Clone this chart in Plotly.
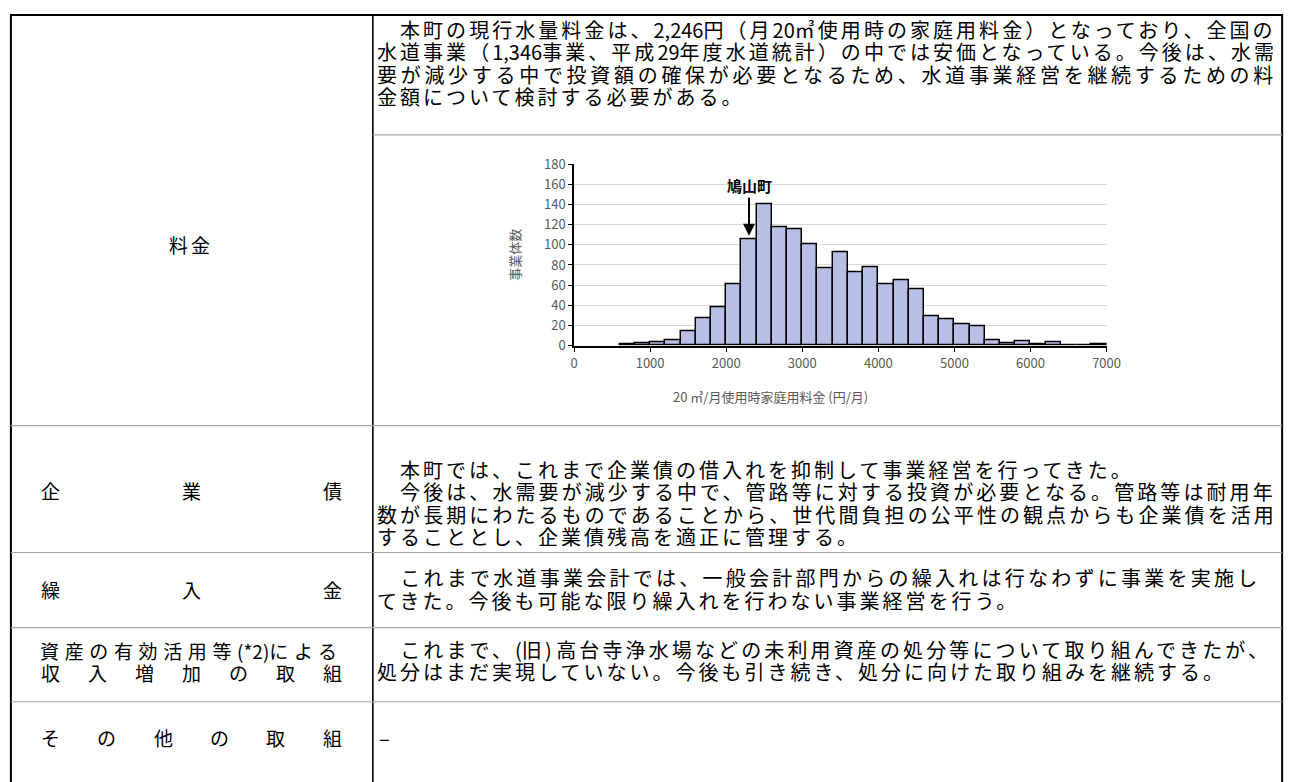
import plotly.graph_objects as go

W, H = 1305, 782

# ---------------- data ----------------
bin_start = [600, 800, 1000, 1200, 1400, 1600, 1800, 2000, 2200, 2400, 2600, 2800,
             3000, 3200, 3400, 3600, 3800, 4000, 4200, 4400, 4600, 4800, 5000, 5200,
             5400, 5600, 5800, 6000, 6200, 6400, 6600, 6800]
counts = [1, 2, 3, 5, 14, 27, 38, 61, 106, 140, 118, 116,
          101, 77, 93, 73, 78, 61, 65, 56, 29, 26, 21, 19,
          5, 2, 4, 1, 3, 0, 0, 1]
bin_width = 200
y_ticks = [0, 20, 40, 60, 80, 100, 120, 140, 160, 180]
x_ticks = [0, 1000, 2000, 3000, 4000, 5000, 6000, 7000]
town_fee = 2300      # bin containing 鳩山町 (2,246円)
town_label = "鳩山町"
x_title = "20 ㎥/月使用時家庭用料金 (円/月)"
y_title = "事業体数"

row1_text = [
    "　本町の現行水量料金は、2,246円（月20㎥使用時の家庭用料金）となっており、全国の",
    "水道事業（1,346事業、平成29年度水道統計）の中では安価となっている。今後は、水需",
    "要が減少する中で投資額の確保が必要となるため、水道事業経営を継続するための料",
    "金額について検討する必要がある。",
]
row2_text = [
    "　本町では、これまで企業債の借入れを抑制して事業経営を行ってきた。",
    "　今後は、水需要が減少する中で、管路等に対する投資が必要となる。管路等は耐用年",
    "数が長期にわたるものであることから、世代間負担の公平性の観点からも企業債を活用",
    "することとし、企業債残高を適正に管理する。",
]
row3_text = [
    "　これまで水道事業会計では、一般会計部門からの繰入れは行なわずに事業を実施し",
    "てきた。今後も可能な限り繰入れを行わない事業経営を行う。",
]
row4_text = [
    "　これまで、(旧) 高台寺浄水場などの未利用資産の処分等について取り組んできたが、",
    "処分はまだ実現していない。今後も引き続き、処分に向けた取り組みを継続する。",
]
row5_text = ["–"]

label1 = "料金"
label2 = "企業債"
label3 = "繰入金"
label4a = "資産の有効活用等(*2)による"
label4b = "収入増加の取組"
label5 = "その他の取組"

# ---------------- helpers ----------------
def px(x):
    return x / W

def py(y):
    return 1 - y / H

FONT = "Noto Sans CJK JP"
TS = 20
BASE_SP = 3.0
LINE_H = 23

ASCII_W = {",": 0.26, "(": 0.33, ")": 0.33, "*": 0.46, " ": 0.22, "–": 0.5}

def est_ascii(s, size):
    return sum(ASCII_W.get(c, 0.555) for c in s) * size

def runs(s):
    out, cur, cur_a = [], "", None
    for c in s:
        a = ord(c) < 0x2100
        if cur and a != cur_a:
            out.append((cur, cur_a))
            cur = ""
        cur += c
        cur_a = a
    if cur:
        out.append((cur, cur_a))
    return out

def markup(s, sp):
    parts = []
    for r, a in runs(s):
        spc = 0 if a else sp
        parts.append(f'<span style="letter-spacing:{spc:.2f}px">{r}</span>')
    return "".join(parts)

def fit_spacing(s, width, size):
    rs = runs(s)
    n_cjk = sum(len(r) for r, a in rs if not a)
    aw = sum(est_ascii(r, size) for r, a in rs if a)
    return (width - aw) / n_cjk - size - 0.3

annotations = []
shapes = []

def txt(s, x, y, anchor="left", size=TS, sp=BASE_SP):
    annotations.append(dict(
        text=markup(s, sp), x=px(x), y=py(y), borderpad=0,
        xref="paper", yref="paper", xanchor=anchor, yanchor="middle",
        showarrow=False, font=dict(family=FONT, size=size, color="black")))

def spread(s, x0, x1, y, size=19):
    n = len(s)
    for i, ch in enumerate(s):
        cx = x0 + (x1 - x0) * i / (n - 1)
        annotations.append(dict(
            text=ch, x=px(cx), y=py(y), borderpad=0,
            xref="paper", yref="paper",
            xanchor="center", yanchor="middle", showarrow=False,
            font=dict(family=FONT, size=size, color="black")))

def hline(y, x0, x1, color="#a6a6a6", w=1.2):
    shapes.append(dict(type="line", xref="paper", yref="paper",
                       x0=px(x0), x1=px(x1), y0=py(y), y1=py(y),
                       line=dict(color=color, width=w)))

def vline(x, y0, y1, color="black", w=1.5):
    shapes.append(dict(type="line", xref="paper", yref="paper",
                       x0=px(x), x1=px(x), y0=py(y0), y1=py(y1),
                       line=dict(color=color, width=w)))

# ---------------- table ----------------
LEFT, RIGHT, TOP, BOT = 7, 1296, 5, 800
DIV = 374
vline(LEFT, TOP - 1, BOT, w=2)
vline(RIGHT, TOP - 1, BOT, w=2)
vline(DIV, TOP, BOT, w=1.6)
hline(TOP, LEFT, RIGHT, color="black", w=2)
hline(128, DIV, RIGHT)
for yy in [426, 556, 633, 709]:
    hline(yy, LEFT, RIGHT)

TX = 377
FULL = 912   # justified width of a full text line in the right column

def block(lines, y0, fit_widths):
    for i, s in enumerate(lines):
        sp = BASE_SP
        if fit_widths[i]:
            sp = fit_spacing(s, fit_widths[i], TS)
        txt(s, TX, y0 + LINE_H * i, sp=sp)

block(row1_text, 20, [FULL, FULL, FULL, None])
block(row2_text, 471, [None, FULL, FULL, None])
block(row3_text, 582, [895, None])
block(row4_text, 655, [908, None])
txt(row5_text[0], TX + 2, 746)

txt(label1, 190, 240, anchor="center", size=19, sp=3)
spread(label2, 47, 333, 492)
spread(label3, 47, 333, 594)
txt(label4a, 190, 656, anchor="center", size=19,
    sp=fit_spacing(label4a, 306, 19))
spread(label4b, 47, 333, 679)
spread(label5, 47, 333, 746)

# ---------------- chart ----------------
GRAY = "#595959"
fig = go.Figure()
fig.add_trace(go.Bar(
    x=bin_start, y=counts, width=bin_width, offset=0,
    marker=dict(color="#b7bfe6", line=dict(color="black", width=1.5)),
    showlegend=False, hoverinfo="x+y"))

annotations.append(dict(
    x=town_fee, y=109, xref="x", yref="y", text=f"<b>{town_label}</b>",
    showarrow=True, ax=0, ay=-50, arrowhead=2, arrowsize=1.2, arrowwidth=2,
    arrowcolor="black", font=dict(family=FONT, size=15, color="black")))

annotations.append(dict(
    text=y_title, x=px(518), y=py(251), xref="paper", yref="paper",
    textangle=-90, showarrow=False, xanchor="center", yanchor="middle",
    font=dict(family=FONT, size=13, color=GRAY)))
annotations.append(dict(
    text=x_title, x=px(777), y=py(396), xref="paper", yref="paper",
    showarrow=False, xanchor="center", yanchor="middle",
    font=dict(family=FONT, size=13, color=GRAY)))

fig.update_layout(
    width=W, height=H,
    margin=dict(l=0, r=0, t=0, b=0),
    paper_bgcolor="white", plot_bgcolor="white",
    bargap=0,
    xaxis=dict(domain=[px(578), px(1118)], range=[0, 7000],
               tickvals=x_ticks, ticks="outside", ticklen=5, tickcolor="black",
               showline=True, linecolor="black", linewidth=1.5,
               showgrid=False, zeroline=False,
               tickfont=dict(family=FONT, size=13, color=GRAY)),
    yaxis=dict(domain=[py(344), py(158)], range=[0, 180],
               tickvals=y_ticks, ticks="outside", ticklen=4, tickcolor="black",
               showline=True, linecolor="black", linewidth=1.5,
               showgrid=True, gridcolor="#d9d9d9", gridwidth=1, zeroline=False,
               tickfont=dict(family=FONT, size=13, color=GRAY)),
    annotations=annotations,
    shapes=shapes,
)

fig.write_html("out.html")
